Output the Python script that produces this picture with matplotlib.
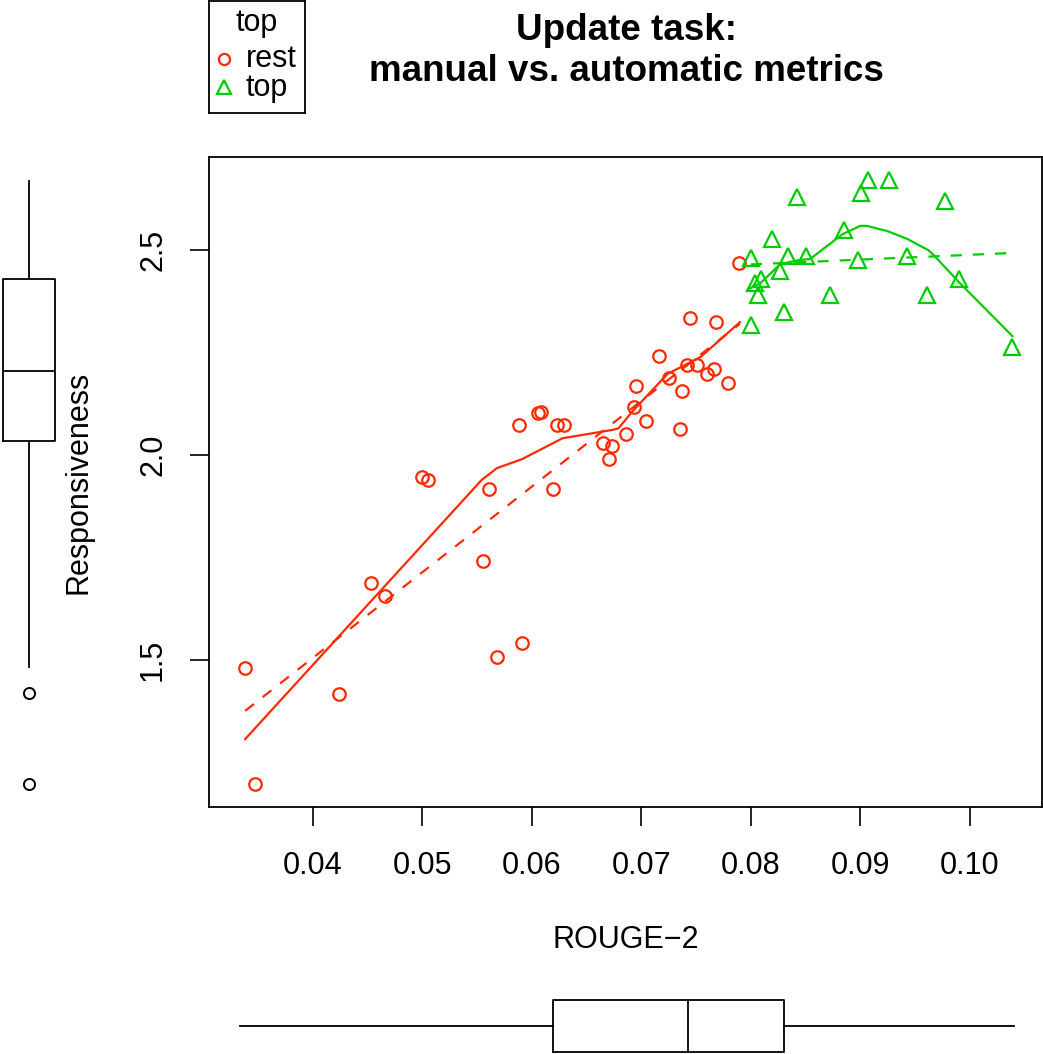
import matplotlib

matplotlib.use("Agg")
import matplotlib.pyplot as plt

plt.rcParams["font.family"] = ["Liberation Sans", "DejaVu Sans"]

W, H = 1043, 1054
RED = "#ff2a00"
GREEN = "#00cd00"

# ROUGE-2 / Responsiveness, group "rest"
rest_x = [0.0338, 0.0347, 0.0424, 0.0453, 0.0466, 0.0500, 0.0505, 0.0555,
          0.0561, 0.0568, 0.0588, 0.0591, 0.0606, 0.0608, 0.0619, 0.0623,
          0.0629, 0.0665, 0.0673, 0.0670, 0.0686, 0.0693, 0.0695, 0.0704,
          0.0716, 0.0725, 0.0735, 0.0737, 0.0742, 0.0744, 0.0751, 0.0760,
          0.0766, 0.0768, 0.0779, 0.0789]
rest_y = [1.480, 1.198, 1.417, 1.688, 1.656, 1.946, 1.939, 1.741,
          1.917, 1.507, 2.073, 1.541, 2.102, 2.104, 1.917, 2.073,
          2.073, 2.029, 2.022, 1.990, 2.051, 2.117, 2.168, 2.083,
          2.241, 2.188, 2.063, 2.156, 2.219, 2.334, 2.219, 2.198,
          2.210, 2.324, 2.176, 2.468]

# group "top"
top_x = [0.0800, 0.0800, 0.0804, 0.0809, 0.0807, 0.0819, 0.0827, 0.0830,
         0.0834, 0.0842, 0.0850, 0.0872, 0.0885, 0.0898, 0.0901, 0.0907,
         0.0926, 0.0943, 0.0961, 0.0977, 0.0990, 0.1039]
top_y = [2.480, 2.317, 2.420, 2.430, 2.390, 2.527, 2.450, 2.350,
         2.485, 2.630, 2.485, 2.390, 2.550, 2.476, 2.640, 2.670,
         2.670, 2.485, 2.390, 2.620, 2.430, 2.263]

# fitted lines (linear = dashed, smoother = solid)
rest_lin_x = [0.0338, 0.0790]
rest_lin_y = [1.376, 2.320]
rest_smooth_x = [0.0338, 0.0554, 0.0568, 0.0591, 0.0607, 0.0628, 0.0673,
                 0.0679, 0.0693, 0.0724, 0.0754, 0.0790]
rest_smooth_y = [1.307, 1.939, 1.968, 1.990, 2.012, 2.041, 2.061,
                 2.065, 2.110, 2.198, 2.239, 2.324]
top_lin_x = [0.0800, 0.1039]
top_lin_y = [2.465, 2.493]
top_smooth_x = [0.0798, 0.0809, 0.0827, 0.0845, 0.0854, 0.0884, 0.0900,
                0.0906, 0.0925, 0.0943, 0.0962, 0.0967, 0.0990, 0.1039]
top_smooth_y = [2.405, 2.420, 2.466, 2.476, 2.478, 2.539, 2.559,
                2.559, 2.546, 2.527, 2.500, 2.488, 2.422, 2.290]

# marginal boxplots
y_box = {"whislo": 1.483, "q1": 2.034, "med": 2.205, "q3": 2.429,
         "whishi": 2.668, "fliers": [1.419, 1.198]}
x_box = {"whislo": 0.0333, "q1": 0.0619, "med": 0.0743, "q3": 0.0830,
         "whishi": 0.1040, "fliers": []}

x_ticks = [0.04, 0.05, 0.06, 0.07, 0.08, 0.09, 0.10]
y_ticks = [1.5, 2.0, 2.5]

FS = 22

fig = plt.figure(figsize=(W / 100, H / 100), dpi=100)
ax = fig.add_axes([209 / W, 1 - 807 / H, 833 / W, 650 / H])

ax.plot(rest_x, rest_y, "o", ms=9, mfc="none", mec=RED, mew=1.6)
ax.plot(top_x, top_y, "^", ms=11.5, mfc="none", mec=GREEN, mew=1.6)
ax.plot(rest_lin_x, rest_lin_y, color=RED, lw=1.6, ls=(0, (5, 5)))
ax.plot(rest_smooth_x, rest_smooth_y, color=RED, lw=1.6)
ax.plot(top_lin_x, top_lin_y, color=GREEN, lw=1.6, ls=(0, (5, 5)))
ax.plot(top_smooth_x, top_smooth_y, color=GREEN, lw=1.6)

ax.set_xlim(0.0305, 0.1066)
ax.set_ylim(1.1415, 2.727)
ax.set_xticks(x_ticks)
ax.set_xticklabels([f"{t:.2f}" for t in x_ticks], fontsize=FS)
ax.set_yticks(y_ticks)
ax.set_yticklabels([f"{t:.1f}" for t in y_ticks], fontsize=FS,
                   rotation=90, va="center")
ax.tick_params(direction="out", length=13.5, width=1.2)
ax.tick_params(axis="x", pad=18)
ax.tick_params(axis="y", pad=16)
for s in ax.spines.values():
    s.set_linewidth(1.3)

# left marginal boxplot
axl = fig.add_axes([0, 1 - 807 / H, 60 / W, 650 / H], sharey=ax)
axl.bxp([y_box], positions=[29 / 60], widths=[52 / 60], vert=True,
        showcaps=False, patch_artist=False,
        boxprops=dict(color="black", lw=1.3),
        whiskerprops=dict(color="black", lw=1.3, ls="-"),
        medianprops=dict(color="black", lw=1.3),
        flierprops=dict(marker="o", ms=8, mfc="none", mec="black", mew=1.4))
axl.set_xlim(0, 1)
axl.axis("off")

# bottom marginal boxplot
axb = fig.add_axes([209 / W, 0, 833 / W, 60 / H], sharex=ax)
axb.bxp([x_box], positions=[28 / 60], widths=[52 / 60], vert=False,
        showcaps=False, showfliers=False,
        boxprops=dict(color="black", lw=1.3),
        whiskerprops=dict(color="black", lw=1.3, ls="-"),
        medianprops=dict(color="black", lw=1.3))
axb.set_ylim(0, 1)
axb.axis("off")

# labels and title
fig.text(78 / W, 1 - 482 / H, "Responsiveness", rotation=90, fontsize=FS,
         ha="center", va="center")
fig.text(626 / W, 1 - 940 / H, "ROUGE\u22122", fontsize=FS,
         ha="center", va="center")
fig.text(626 / W, 1 - 51 / H, "Update task:\nmanual vs. automatic metrics",
         fontsize=26.5, fontweight="bold", ha="center", va="center",
         linespacing=1.2)

# legend box outside the plot
lg = fig.add_axes([209 / W, 1 - 113 / H, 96 / W, 112 / H])
lg.set_xlim(0, 96)
lg.set_ylim(112, 0)
lg.set_xticks([])
lg.set_yticks([])
for s in lg.spines.values():
    s.set_linewidth(1.3)
lg.text(48, 22, "top", fontsize=FS, ha="center", va="center")
lg.plot([15], [58], "o", ms=8, mfc="none", mec=RED, mew=1.6)
lg.text(37, 58, "rest", fontsize=FS, ha="left", va="center")
lg.plot([15], [86], "^", ms=10.5, mfc="none", mec=GREEN, mew=1.6)
lg.text(37, 87, "top", fontsize=FS, ha="left", va="center")

fig.savefig("out.png", dpi=100)
